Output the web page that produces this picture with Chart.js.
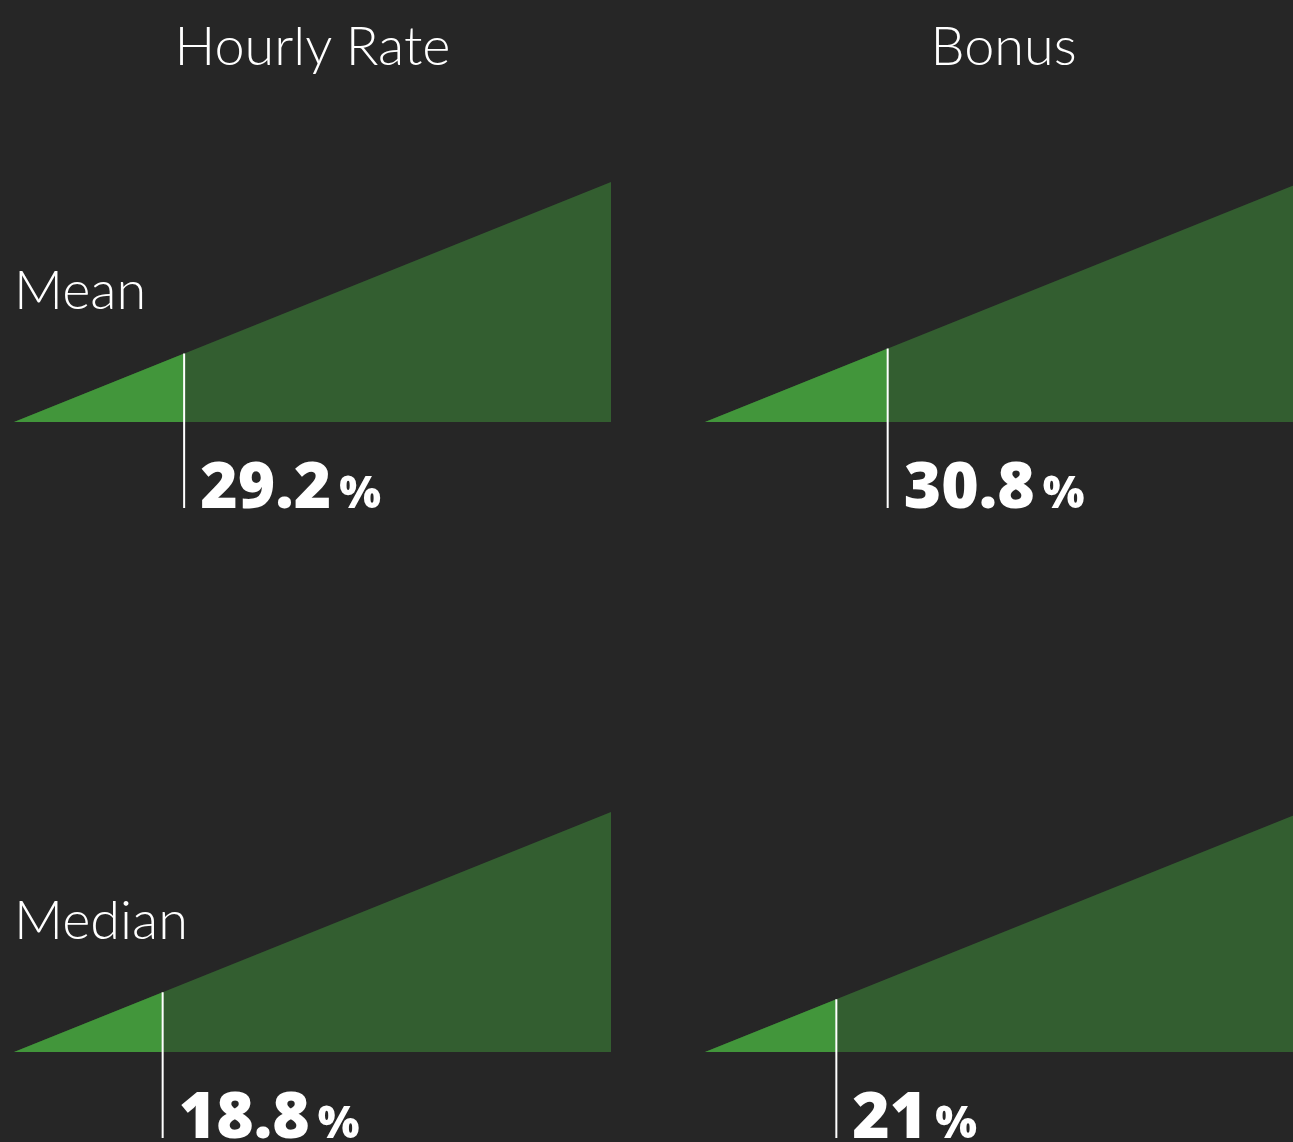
<!DOCTYPE html>
<html>
<head>
<meta charset="utf-8">
<script src="https://cdn.jsdelivr.net/npm/chart.js@4.4.1/dist/chart.umd.min.js"></script>
<style>
  html, body { margin: 0; background: #262626; width: 1293px; height: 1142px; overflow: hidden; }
  #wrap { position: relative; width: 1293px; height: 1142px; overflow: hidden; }
  #wrap canvas { position: absolute; }
  .lbl { position: absolute; color: #fff; font-family: Lato, "Open Sans", sans-serif; font-weight: 300;
         font-size: 54px; line-height: 54px; white-space: nowrap; }
</style>
</head>
<body>
<div id="wrap"></div>
<script>
const columns = ["Hourly Rate", "Bonus"];
const rows = ["Mean", "Median"];
// pay gap per row/column, as printed
const gapValues = [
  [29.2, 30.8],
  [18.8, 21],
];
// where the stem sits along the ramp (0-100), as drawn
const markerAt = [
  [28.5, 30.6],
  [24.9, 22],
];
const rampEnd = 100;

const DARK = "#335e30";
const LIGHT = "#42963b";

const PANEL_W = 597, ABOVE = 250, BELOW = 90, PX_PER_UNIT = 2.4;
const colLeft = [14, 705];
const rowBase = [422, 1052];
const STEM_END = -86 / PX_PER_UNIT;

const wrap = document.getElementById("wrap");

function addLabel(text, style) {
  const d = document.createElement("div");
  d.className = "lbl";
  d.textContent = text;
  Object.assign(d.style, style);
  wrap.appendChild(d);
  return d;
}

// column titles, centred over each panel
columns.forEach((t, i) => {
  const d = addLabel(t, { top: "18px" });
  d.style.left = (colLeft[i] + PANEL_W / 2 - d.offsetWidth / 2) + "px";
});
// row labels
rows.forEach((t, r) => addLabel(t, { left: "14px", top: (rowBase[r] - 160) + "px" }));

const valueLabel = {
  id: "valueLabel",
  afterDatasetsDraw(chart, args, opts) {
    const { ctx, scales: { x, y } } = chart;
    const px = x.getPixelForValue(opts.at) + 16;
    const py = y.getPixelForValue(STEM_END);
    ctx.save();
    ctx.fillStyle = "#fff";
    ctx.textBaseline = "alphabetic";
    ctx.font = "800 64px 'Open Sans'";
    const num = String(opts.value);
    ctx.fillText(num, px, py);
    const w = ctx.measureText(num).width;
    ctx.font = "800 44px 'Open Sans'";
    ctx.fillText("%", px + w + 8, py);
    ctx.restore();
  },
};

function makePanel(r, c) {
  const cv = document.createElement("canvas");
  cv.width = PANEL_W;
  cv.height = ABOVE + BELOW;
  cv.style.left = colLeft[c] + "px";
  cv.style.top = (rowBase[r] - ABOVE) + "px";
  wrap.appendChild(cv);
  const p = markerAt[r][c];
  new Chart(cv, {
    type: "line",
    data: {
      datasets: [
        { data: [{ x: p, y: p }, { x: p, y: STEM_END }], borderColor: "#ffffff", borderWidth: 2, fill: false, order: 0 },
        { data: [{ x: 0, y: 0 }, { x: p, y: p }], backgroundColor: LIGHT, borderWidth: 0, fill: "origin", order: 1 },
        { data: [{ x: 0, y: 0 }, { x: rampEnd, y: rampEnd }], backgroundColor: DARK, borderWidth: 0, fill: "origin", order: 2 },
      ],
    },
    options: {
      responsive: false,
      animation: false,
      events: [],
      layout: { padding: 0 },
      elements: { point: { radius: 0 }, line: { tension: 0, borderColor: "transparent" } },
      scales: {
        x: { type: "linear", min: 0, max: 100, display: false },
        y: { type: "linear", min: -BELOW / PX_PER_UNIT, max: ABOVE / PX_PER_UNIT, display: false },
      },
      plugins: {
        legend: { display: false },
        tooltip: { enabled: false },
        valueLabel: { at: p, value: gapValues[r][c] },
      },
    },
    plugins: [valueLabel],
  });
}

rows.forEach((_, r) => columns.forEach((_, c) => makePanel(r, c)));
</script>
</body>
</html>
